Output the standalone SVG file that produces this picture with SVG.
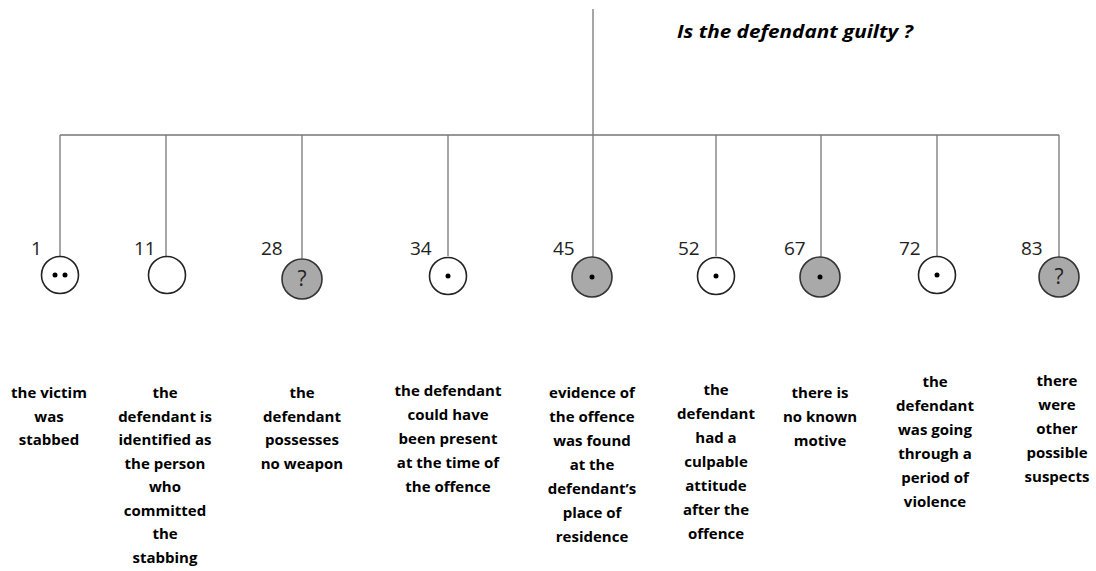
<svg xmlns="http://www.w3.org/2000/svg" width="1096" height="571" viewBox="0 0 1096 571">
<style>
.ln{stroke:#777;stroke-width:1.3;fill:none}
.cw{fill:#fff;stroke:#222;stroke-width:1.6}
.cg{fill:#a9a9a9;stroke:#333;stroke-width:1.6}
.dot{fill:#000}
.num{font-family:"Open Sans",sans-serif;font-size:19px;fill:#222}
.q{font-family:"Open Sans",sans-serif;font-size:21px;fill:#222;text-anchor:middle}
.lbl{font-family:"Open Sans",sans-serif;font-weight:700;font-size:15px;fill:#000;text-anchor:middle}
.title{font-family:"Open Sans",sans-serif;font-weight:700;font-style:italic;font-size:18px;fill:#000}
</style>
<rect width="1096" height="571" fill="#fff"/>
<text class="title" x="677" y="38" textLength="236" lengthAdjust="spacingAndGlyphs">Is the defendant guilty ?</text>
<g id="connectors">
<path class="ln" d="M593 9V135M60 135H1059"/>
<path class="ln" d="M60 135V256M166 135V256M302 135V258M448 135V256M593 135V257M716 135V256M821 135V257M937 135V256M1059 135V257"/>
</g>
<g id="n1"><text class="num" x="31" y="255">1</text><circle class="cw" cx="60" cy="275" r="18.5"/><circle class="dot" cx="55" cy="275" r="2.5"/><circle class="dot" cx="65" cy="275" r="2.5"/>
<text class="lbl" x="49"><tspan x="49" y="398">the victim</tspan><tspan x="49" y="421.5">was</tspan><tspan x="49" y="445">stabbed</tspan></text></g>
<g id="n11"><text class="num" x="134" y="255">11</text><circle class="cw" cx="167" cy="275" r="18.5"/>
<text class="lbl"><tspan x="165" y="398">the</tspan><tspan x="165" y="421.5">defendant is</tspan><tspan x="165" y="445">identified as</tspan><tspan x="165" y="468.5">the person</tspan><tspan x="165" y="492">who</tspan><tspan x="165" y="515.5">committed</tspan><tspan x="165" y="539">the</tspan><tspan x="165" y="562.5">stabbing</tspan></text></g>
<g id="n28"><text class="num" x="261" y="255">28</text><circle class="cg" cx="302" cy="279" r="20"/><text class="q" x="302" y="286">?</text>
<text class="lbl"><tspan x="302" y="398">the</tspan><tspan x="302" y="421.5">defendant</tspan><tspan x="302" y="445">possesses</tspan><tspan x="302" y="468.5">no weapon</tspan></text></g>
<g id="n34"><text class="num" x="410" y="255">34</text><circle class="cw" cx="448" cy="276" r="18.5"/><circle class="dot" cx="448" cy="276" r="2.5"/>
<text class="lbl"><tspan x="448" y="396">the defendant</tspan><tspan x="448" y="420">could have</tspan><tspan x="448" y="444">been present</tspan><tspan x="448" y="468">at the time of</tspan><tspan x="448" y="492">the offence</tspan></text></g>
<g id="n45"><text class="num" x="553" y="255">45</text><circle class="cg" cx="592" cy="277" r="20"/><circle class="dot" cx="592" cy="277" r="2.5"/>
<text class="lbl"><tspan x="592" y="398">evidence of</tspan><tspan x="592" y="422">the offence</tspan><tspan x="592" y="446">was found</tspan><tspan x="592" y="470">at the</tspan><tspan x="592" y="494">defendant’s</tspan><tspan x="592" y="518">place of</tspan><tspan x="592" y="542">residence</tspan></text></g>
<g id="n52"><text class="num" x="678" y="255">52</text><circle class="cw" cx="716" cy="276" r="18.5"/><circle class="dot" cx="716" cy="276" r="2.5"/>
<text class="lbl"><tspan x="716" y="395">the</tspan><tspan x="716" y="419">defendant</tspan><tspan x="716" y="443">had a</tspan><tspan x="716" y="467">culpable</tspan><tspan x="716" y="491">attitude</tspan><tspan x="716" y="515">after the</tspan><tspan x="716" y="539">offence</tspan></text></g>
<g id="n67"><text class="num" x="784" y="255">67</text><circle class="cg" cx="820" cy="277" r="20"/><circle class="dot" cx="820" cy="277" r="2.5"/>
<text class="lbl"><tspan x="820" y="398">there is</tspan><tspan x="820" y="422">no known</tspan><tspan x="820" y="446">motive</tspan></text></g>
<g id="n72"><text class="num" x="899" y="255">72</text><circle class="cw" cx="937" cy="275" r="18.5"/><circle class="dot" cx="937" cy="275" r="2.5"/>
<text class="lbl"><tspan x="935" y="387">the</tspan><tspan x="935" y="411">defendant</tspan><tspan x="935" y="435">was going</tspan><tspan x="935" y="459">through a</tspan><tspan x="935" y="483">period of</tspan><tspan x="935" y="507">violence</tspan></text></g>
<g id="n83"><text class="num" x="1021" y="255">83</text><circle class="cg" cx="1059" cy="277" r="20"/><text class="q" x="1059" y="284">?</text>
<text class="lbl"><tspan x="1057" y="386">there</tspan><tspan x="1057" y="410">were</tspan><tspan x="1057" y="434">other</tspan><tspan x="1057" y="458">possible</tspan><tspan x="1057" y="482">suspects</tspan></text></g>
</svg>
